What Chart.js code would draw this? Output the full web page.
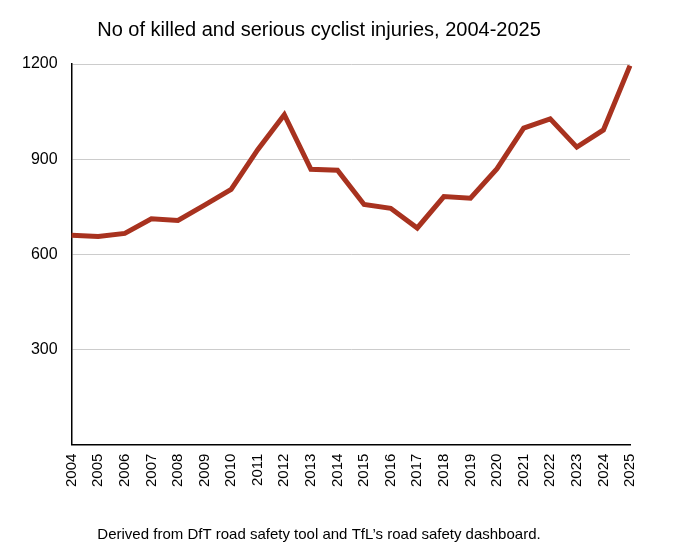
<!DOCTYPE html>
<html>
<head>
<meta charset="utf-8">
<script src="https://cdn.jsdelivr.net/npm/chart.js@4"></script>
<style>
  body { margin: 0; background: #fff; }
  #wrap { width: 680px; height: 560px; }
</style>
</head>
<body>
<div id="wrap"><canvas id="chart"></canvas></div>
<script>
const years = ["2004","2005","2006","2007","2008","2009","2010","2011","2012","2013","2014",
               "2015","2016","2017","2018","2019","2020","2021","2022","2023","2024","2025"];
const ksi = [660, 656, 666, 712, 707, 755, 805, 930, 1040, 868, 865,
             757, 745, 683, 782, 777, 870, 998, 1027, 938, 992, 1195];
const yTicks = [300, 600, 900, 1200];

Chart.defaults.font.family = "'Liberation Sans', Arial, sans-serif";
Chart.defaults.color = '#000';

new Chart(document.getElementById('chart'), {
  type: 'line',
  data: {
    labels: years,
    datasets: [{
      data: ksi,
      borderColor: '#a8321f',
      borderWidth: 5,
      pointRadius: 0,
      tension: 0,
      fill: false
    }]
  },
  options: {
    responsive: true,
    maintainAspectRatio: false,
    animation: false,
    layout: { padding: { left: 8, right: 50, top: 10, bottom: 16 } },
    plugins: {
      legend: { display: false },
      tooltip: { enabled: false },
      title: {
        display: true,
        text: 'No of killed and serious cyclist injuries, 2004-2025',
        font: { size: 20, weight: 'normal' },
        padding: { top: 8, bottom: 22 }
      },
      subtitle: {
        display: true,
        position: 'bottom',
        text: 'Derived from DfT road safety tool and TfL\u2019s road safety dashboard.',
        font: { size: 15 },
        padding: { top: 36, bottom: 0 }
      }
    },
    scales: {
      x: {
        offset: false,
        grid: { display: false, drawTicks: true, tickLength: 6 },
        border: { color: '#000', width: 1.5 },
        ticks: { maxRotation: 90, minRotation: 90, autoSkip: false, font: { size: 15 } }
      },
      y: {
        min: 0,
        max: 1200,
        afterBuildTicks: axis => { axis.ticks = yTicks.map(v => ({ value: v })); },
        grid: { color: '#cccccc', drawTicks: false },
        border: { color: '#000', width: 1.5 },
        ticks: { padding: 14, font: { size: 16 }, callback: v => String(v) }
      }
    }
  }
});
</script>
</body>
</html>
